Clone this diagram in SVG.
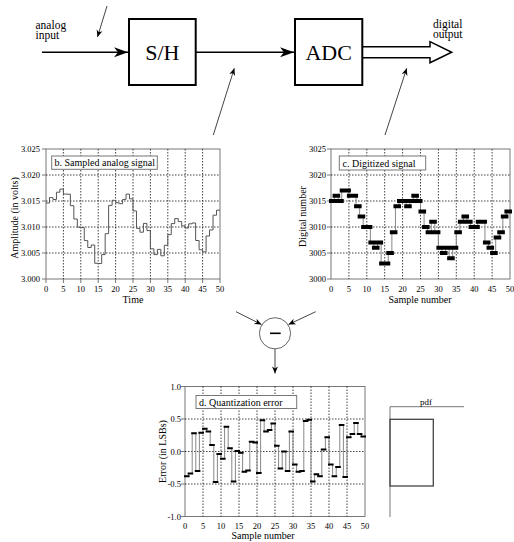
<svg xmlns="http://www.w3.org/2000/svg" width="514" height="542" viewBox="0 0 514 542">
<style>
text{font-family:"Liberation Serif","Times New Roman",serif;fill:#000}
.big{font-size:22px}
.lbl{font-size:11.5px}
.tk{font-size:8.5px}
.ttl{font-size:10px}
.ax{font-size:10px}
.box{fill:#fff;stroke:#000;stroke-width:2}
.conn{stroke:#000;stroke-width:1.6;fill:none}
.ptr{stroke:#444;stroke-width:1;fill:none}
.frame{fill:#fff;stroke:#777;stroke-width:1}
.grid{stroke:#111;stroke-width:0.8;stroke-dasharray:1.5,1.5;fill:none}
.tick{stroke:#777;stroke-width:1}
.lbox{fill:#fff;stroke:#777;stroke-width:1}
.trace{stroke:#555;stroke-width:1;fill:none}
.vline{stroke:#888;stroke-width:1;fill:none}
.mk4{stroke:#000;stroke-width:4;stroke-linecap:square;fill:none}
.mk2{stroke:#000;stroke-width:2;stroke-linecap:square;fill:none}
</style>
<defs>
<marker id="ah" viewBox="-15 -6 16 12" refX="0" refY="0" markerWidth="16" markerHeight="12" markerUnits="userSpaceOnUse" orient="auto">
<path d="M0,0 L-14,-5 L-10,0 L-14,5 Z" fill="#000"/>
</marker>
<marker id="as" viewBox="-8 -4 9 8" refX="0" refY="0" markerWidth="9" markerHeight="8" markerUnits="userSpaceOnUse" orient="auto">
<path d="M0,0 L-7,-3 L-5,0 L-7,3 Z" fill="#000"/>
</marker>
</defs>

<g id="connectors">
<line class="conn" x1="42" y1="52.3" x2="128" y2="52.3" marker-end="url(#ah)"/>
<line class="conn" x1="196" y1="52.3" x2="294" y2="52.3" marker-end="url(#ah)"/>
<path id="digital-arrow" d="M362,46.7 H430 V41.7 L451.7,52.3 L430,62.7 V57.7 H362" fill="#fff" stroke="#000" stroke-width="1.5"/>
<line class="ptr" x1="107" y1="6" x2="97.5" y2="37" marker-end="url(#as)"/>
<line class="ptr" x1="213.3" y1="135" x2="234.3" y2="68.3" marker-end="url(#as)"/>
<line class="ptr" x1="385" y1="135" x2="406.7" y2="68.3" marker-end="url(#as)"/>
<line class="ptr" x1="236" y1="311.7" x2="261.5" y2="324.5" marker-end="url(#as)"/>
<line class="ptr" x1="315.7" y1="311.7" x2="288.5" y2="324.5" marker-end="url(#as)"/>
<line class="ptr" x1="275" y1="349" x2="275" y2="373.5" marker-end="url(#as)"/>
</g>

<g id="analog-input">
<text class="lbl" x="35.5" y="28.5">analog</text>
<text class="lbl" x="35.5" y="38.5">input</text>
</g>
<g id="sh">
<rect class="box" x="129" y="19" width="66.7" height="66"/>
<text class="big" x="162.3" y="60" text-anchor="middle">S/H</text>
</g>
<g id="adc">
<rect class="box" x="295" y="19" width="67.3" height="66"/>
<text class="big" x="328.7" y="60" text-anchor="middle">ADC</text>
</g>
<g id="digital-output">
<text class="lbl" x="433" y="28">digital</text>
<text class="lbl" x="433" y="38">output</text>
</g>

<g id="plot-b">
<rect class="frame" x="46" y="149" width="174" height="130"/>
<path class="grid" d="M46,175H220M46,201H220M46,227H220M46,253H220M63.4,149V279M80.8,149V279M98.2,149V279M115.6,149V279M133,149V279M150.4,149V279M167.8,149V279M185.2,149V279M202.6,149V279"/>
<path class="tick" d="M42,149H46M42,175H46M42,201H46M42,227H46M42,253H46M42,279H46M46,279V283M63.4,279V283M80.8,279V283M98.2,279V283M115.6,279V283M133,279V283M150.4,279V283M167.8,279V283M185.2,279V283M202.6,279V283M220,279V283"/>
<rect class="lbox" x="51.7" y="156" width="105.6" height="13.3"/>
<text class="ttl" x="54.5" y="166.3">b. Sampled analog signal</text>
<path class="trace" d="M46,203.0 H49.48 V197.6 H52.96 V199.5 H56.44 V192.2 H59.92 V189.1 H63.4 V194.0 H66.88 V194.2 H70.36 V205.7 H73.84 V219.0 H77.32 V227.2 H80.8 V227.6 H84.28 V240.6 H87.76 V247.5 H91.24 V245.0 H94.72 V263.3 H98.2 V263.5 H101.68 V254.6 H105.16 V233.7 H108.64 V205.4 H112.12 V200.3 H115.6 V202.7 H119.08 V203.7 H122.56 V199.4 H126.04 V194.1 H129.52 V198.8 H133 V210.9 H136.48 V228.4 H139.96 V232.2 H143.44 V223.4 H146.92 V230.6 H150.4 V248.8 H153.88 V254.6 H157.36 V249.4 H160.84 V255.8 H164.32 V245.3 H167.8 V234.6 H171.28 V223.6 H174.76 V218.6 H178.24 V221.6 H181.72 V225.9 H185.2 V228.0 H188.68 V223.8 H192.16 V223.0 H195.64 V240.5 H199.12 V249.8 H202.6 V251.9 H206.08 V236.0 H209.56 V229.9 H213.04 V215.2 H216.52 V210.2 H220"/>
<g class="tk" text-anchor="end">
<text x="40" y="152">3.025</text><text x="40" y="178">3.020</text><text x="40" y="204">3.015</text><text x="40" y="230">3.010</text><text x="40" y="256">3.005</text><text x="40" y="282">3.000</text>
</g>
<g class="tk" text-anchor="middle">
<text x="46" y="292">0</text><text x="63.4" y="292">5</text><text x="80.8" y="292">10</text><text x="98.2" y="292">15</text><text x="115.6" y="292">20</text><text x="133" y="292">25</text><text x="150.4" y="292">30</text><text x="167.8" y="292">35</text><text x="185.2" y="292">40</text><text x="202.6" y="292">45</text><text x="220" y="292">50</text>
</g>
<text class="ax" x="133" y="303" text-anchor="middle">Time</text>
<text class="ax" transform="translate(17.5,218) rotate(-90)" text-anchor="middle">Amplitude (in volts)</text>
</g>

<g id="plot-c">
<rect class="frame" x="331" y="149" width="179" height="130"/>
<path class="grid" d="M331,175H510M331,201H510M331,227H510M331,253H510M348.9,149V279M366.8,149V279M384.7,149V279M402.6,149V279M420.5,149V279M438.4,149V279M456.3,149V279M474.2,149V279M492.1,149V279"/>
<path class="tick" d="M327,149H331M327,175H331M327,201H331M327,227H331M327,253H331M327,279H331"/>
<rect class="lbox" x="339.3" y="156" width="86.4" height="14"/>
<text class="ttl" x="342.5" y="166.5">c. Digitized signal</text>
<path class="vline" d="M331,201 H334.58 V195.8 H338.16 V201 H341.74 V190.6 H348.9 V195.8 H356.06 V206.2 H359.64 V216.6 H363.22 V227 H370.38 V242.6 H373.96 V247.8 H377.54 V242.6 H381.12 V263.4 H388.28 V253 H391.86 V232.2 H395.44 V206.2 H399.02 V201 H406.18 V206.2 H409.76 V201 H413.34 V195.8 H416.92 V201 H420.5 V211.4 H424.08 V227 H427.66 V232.2 H431.24 V221.8 H434.82 V232.2 H438.4 V247.8 H441.98 V253 H445.56 V247.8 H449.14 V258.2 H452.72 V247.8 H456.3 V232.2 H459.88 V221.8 H463.46 V216.6 H467.04 V221.8 H470.62 V227 H477.78 V221.8 H484.94 V242.6 H488.52 V247.8 H492.1 V253 H495.68 V237.4 H499.26 V232.2 H502.84 V216.6 H506.42 V211.4 H510"/>
<path class="mk4" d="M331,201H334.58M334.58,195.8H338.16M338.16,201H341.74M341.74,190.6H345.32M345.32,190.6H348.9M348.9,195.8H352.48M352.48,195.8H356.06M356.06,206.2H359.64M359.64,216.6H363.22M363.22,227H366.8M366.8,227H370.38M370.38,242.6H373.96M373.96,247.8H377.54M377.54,242.6H381.12M381.12,263.4H384.7M384.7,263.4H388.28M388.28,253H391.86M391.86,232.2H395.44M395.44,206.2H399.02M399.02,201H402.6M402.6,201H406.18M406.18,206.2H409.76M409.76,201H413.34M413.34,195.8H416.92M416.92,201H420.5M420.5,211.4H424.08M424.08,227H427.66M427.66,232.2H431.24M431.24,221.8H434.82M434.82,232.2H438.4M438.4,247.8H441.98M441.98,253H445.56M445.56,247.8H449.14M449.14,258.2H452.72M452.72,247.8H456.3M456.3,232.2H459.88M459.88,221.8H463.46M463.46,216.6H467.04M467.04,221.8H470.62M470.62,227H474.2M474.2,227H477.78M477.78,221.8H481.36M481.36,221.8H484.94M484.94,242.6H488.52M488.52,247.8H492.1M492.1,253H495.68M495.68,237.4H499.26M499.26,232.2H502.84M502.84,216.6H506.42M506.42,211.4H510"/>
<g class="tk" text-anchor="end">
<text x="326" y="152">3025</text><text x="326" y="178">3020</text><text x="326" y="204">3015</text><text x="326" y="230">3010</text><text x="326" y="256">3005</text><text x="326" y="282">3000</text>
</g>
<g class="tk" text-anchor="middle">
<text x="331" y="292">0</text><text x="348.9" y="292">5</text><text x="366.8" y="292">10</text><text x="384.7" y="292">15</text><text x="402.6" y="292">20</text><text x="420.5" y="292">25</text><text x="438.4" y="292">30</text><text x="456.3" y="292">35</text><text x="474.2" y="292">40</text><text x="492.1" y="292">45</text><text x="510" y="292">50</text>
</g>
<text class="ax" x="420" y="302.5" text-anchor="middle">Sample number</text>
<text class="ax" transform="translate(306,216.5) rotate(-90)" text-anchor="middle">Digital number</text>
</g>

<g id="subtract">
<circle cx="275" cy="333.3" r="15.6" fill="#fff" stroke="#666" stroke-width="1"/>
<line x1="270" y1="333.3" x2="280.7" y2="333.3" stroke="#000" stroke-width="1.6"/>
</g>

<g id="plot-d">
<rect class="frame" x="185" y="386.5" width="180" height="130"/>
<path class="grid" d="M185,419H365M185,451.5H365M185,484H365M203,386.5V516.5M221,386.5V516.5M239,386.5V516.5M257,386.5V516.5M275,386.5V516.5M293,386.5V516.5M311,386.5V516.5M329,386.5V516.5M347,386.5V516.5"/>
<path class="tick" d="M181,386.5H185M181,419H185M181,451.5H185M181,484H185M181,516.5H185"/>
<rect class="lbox" x="196" y="395.5" width="100.7" height="13"/>
<text class="ttl" x="199" y="405.5">d. Quantization error</text>
<path class="vline" d="M185,476.2 H188.6 V473.6 H192.2 V433.3 H195.8 V471.0 H199.4 V432.7 H203 V428.8 H206.6 V431.4 H210.2 V445.0 H213.8 V482.1 H217.4 V454.1 H221 V458.7 H224.6 V426.8 H228.2 V448.3 H231.8 V481.4 H235.4 V450.9 H239 V452.8 H242.6 V471.7 H246.2 V470.4 H249.8 V441.8 H253.4 V442.4 H257 V473.0 H260.6 V420.3 H264.2 V431.4 H267.8 V430.1 H271.4 V423.6 H275 V445.7 H278.6 V468.4 H282.2 V451.5 H285.8 V471.0 H289.4 V431.4 H293 V464.5 H296.6 V471.7 H300.2 V471.0 H303.8 V421.0 H307.4 V419.7 H311 V481.4 H314.6 V474.3 H318.2 V476.2 H321.8 V449.6 H325.4 V437.2 H329 V464.5 H332.6 V476.2 H336.2 V467.1 H339.8 V424.9 H343.4 V476.9 H347 V437.2 H350.6 V434.0 H354.2 V422.9 H357.8 V434.0 H361.4 V436.6 H365"/>
<path class="mk2" d="M185,476.2H188.6M188.6,473.6H192.2M192.2,433.3H195.8M195.8,471H199.4M199.4,432.7H203M203,428.8H206.6M206.6,431.4H210.2M210.2,445H213.8M213.8,482.1H217.4M217.4,454.1H221M221,458.7H224.6M224.6,426.8H228.2M228.2,448.3H231.8M231.8,481.4H235.4M235.4,450.9H239M239,452.8H242.6M242.6,471.7H246.2M246.2,470.4H249.8M249.8,441.8H253.4M253.4,442.4H257M257,473H260.6M260.6,420.3H264.2M264.2,431.4H267.8M267.8,430.1H271.4M271.4,423.6H275M275,445.7H278.6M278.6,468.4H282.2M282.2,451.5H285.8M285.8,471H289.4M289.4,431.4H293M293,464.5H296.6M296.6,471.7H300.2M300.2,471H303.8M303.8,421H307.4M307.4,419.7H311M311,481.4H314.6M314.6,474.3H318.2M318.2,476.2H321.8M321.8,449.6H325.4M325.4,437.2H329M329,464.5H332.6M332.6,476.2H336.2M336.2,467.1H339.8M339.8,424.9H343.4M343.4,476.9H347M347,437.2H350.6M350.6,434H354.2M354.2,422.9H357.8M357.8,434H361.4M361.4,436.6H365"/>
<g class="tk" text-anchor="end">
<text x="181" y="389.5">1.0</text><text x="181" y="422">0.5</text><text x="181" y="454.5">0.0</text><text x="181" y="487">-0.5</text><text x="181" y="519.5">-1.0</text>
</g>
<g class="tk" text-anchor="middle">
<text x="185" y="529">0</text><text x="203" y="529">5</text><text x="221" y="529">10</text><text x="239" y="529">15</text><text x="257" y="529">20</text><text x="275" y="529">25</text><text x="293" y="529">30</text><text x="311" y="529">35</text><text x="329" y="529">40</text><text x="347" y="529">45</text><text x="365" y="529">50</text>
</g>
<text class="ax" x="263" y="539" text-anchor="middle">Sample number</text>
<text class="ax" transform="translate(166,451.5) rotate(-90)" text-anchor="middle">Error (in LSBs)</text>
</g>

<g id="pdf">
<path d="M390,517 V406.7 H464" fill="none" stroke="#777" stroke-width="1"/>
<rect x="390" y="419.3" width="43.3" height="66.7" fill="none" stroke="#444" stroke-width="1.3"/>
<text class="tk" x="426" y="404.5" text-anchor="middle" style="font-size:9px">pdf</text>
</g>
</svg>
